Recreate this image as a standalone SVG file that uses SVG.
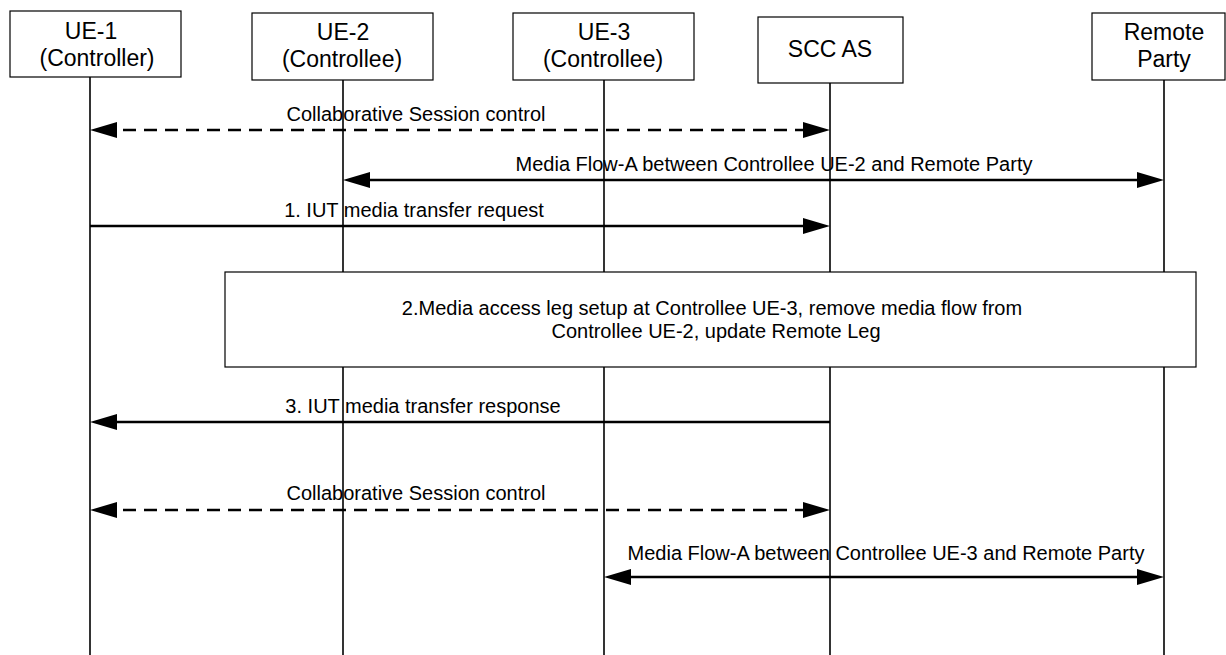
<svg xmlns="http://www.w3.org/2000/svg" width="1226" height="655" viewBox="0 0 1226 655">
<style>
.box{fill:#fff;stroke:#000;stroke-width:1.2}
.life{stroke:#000;stroke-width:1.6}
.hdr{font-family:"Liberation Sans",Arial,sans-serif;font-size:23px;fill:#000;text-anchor:middle}
.lbl{font-family:"Liberation Sans",Arial,sans-serif;font-size:20px;fill:#000;text-anchor:middle}
.msg{stroke:#000;stroke-width:2.6;fill:none}
.dash{stroke-dasharray:13 8}
</style>
<defs>
<marker id="ah" markerUnits="userSpaceOnUse" markerWidth="27" markerHeight="16" refX="15" refY="8" orient="auto-start-reverse" viewBox="0 0 27 16">
<path d="M0,0 L27,8 L0,16 z" fill="#000"/>
</marker>
</defs>
<rect width="1226" height="655" fill="#fff"/>
<g id="lifelines">
<line class="life" x1="90" y1="77" x2="90" y2="655"/>
<line class="life" x1="343" y1="80" x2="343" y2="655"/>
<line class="life" x1="604" y1="80" x2="604" y2="655"/>
<line class="life" x1="830" y1="83" x2="830" y2="655"/>
<line class="life" x1="1164" y1="80" x2="1164" y2="655"/>
</g>
<g id="ue1">
<rect class="box" x="10" y="11" width="171" height="66"/>
<text class="hdr" x="91" y="39">UE-1</text>
<text class="hdr" x="97" y="66">(Controller)</text>
</g>
<g id="ue2">
<rect class="box" x="252" y="13" width="181" height="67"/>
<text class="hdr" x="343" y="40">UE-2</text>
<text class="hdr" x="342" y="67">(Controllee)</text>
</g>
<g id="ue3">
<rect class="box" x="513" y="13" width="181" height="67"/>
<text class="hdr" x="604" y="40">UE-3</text>
<text class="hdr" x="603" y="67">(Controllee)</text>
</g>
<g id="sccas">
<rect class="box" x="758" y="17" width="145" height="66"/>
<text class="hdr" x="830" y="57">SCC AS</text>
</g>
<g id="remote">
<rect class="box" x="1092" y="13" width="133" height="67"/>
<text class="hdr" x="1164" y="40">Remote</text>
<text class="hdr" x="1164" y="67">Party</text>
</g>
<g id="step2">
<rect class="box" x="225" y="272" width="971" height="95"/>
<text class="lbl" x="712" y="315">2.Media access leg setup at Controllee UE-3, remove media flow from</text>
<text class="lbl" x="716" y="338">Controllee UE-2, update Remote Leg</text>
</g>
<g id="connectors">
<line class="msg dash" x1="102" y1="130" x2="818" y2="130" marker-start="url(#ah)" marker-end="url(#ah)"/>
<text class="lbl" x="416" y="121">Collaborative Session control</text>
<line class="msg" x1="355" y1="180" x2="1152" y2="180" marker-start="url(#ah)" marker-end="url(#ah)"/>
<text class="lbl" x="774" y="171">Media Flow-A between Controllee UE-2 and Remote Party</text>
<line class="msg" x1="90" y1="226" x2="818" y2="226" marker-end="url(#ah)"/>
<text class="lbl" x="414" y="217">1. IUT media transfer request</text>
<line class="msg" x1="830" y1="422" x2="102" y2="422" marker-end="url(#ah)"/>
<text class="lbl" x="423" y="413">3. IUT media transfer response</text>
<line class="msg dash" x1="102" y1="510" x2="818" y2="510" marker-start="url(#ah)" marker-end="url(#ah)"/>
<text class="lbl" x="416" y="500">Collaborative Session control</text>
<line class="msg" x1="616" y1="577" x2="1152" y2="577" marker-start="url(#ah)" marker-end="url(#ah)"/>
<text class="lbl" x="886" y="560">Media Flow-A between Controllee UE-3 and Remote Party</text>
</g>
</svg>
